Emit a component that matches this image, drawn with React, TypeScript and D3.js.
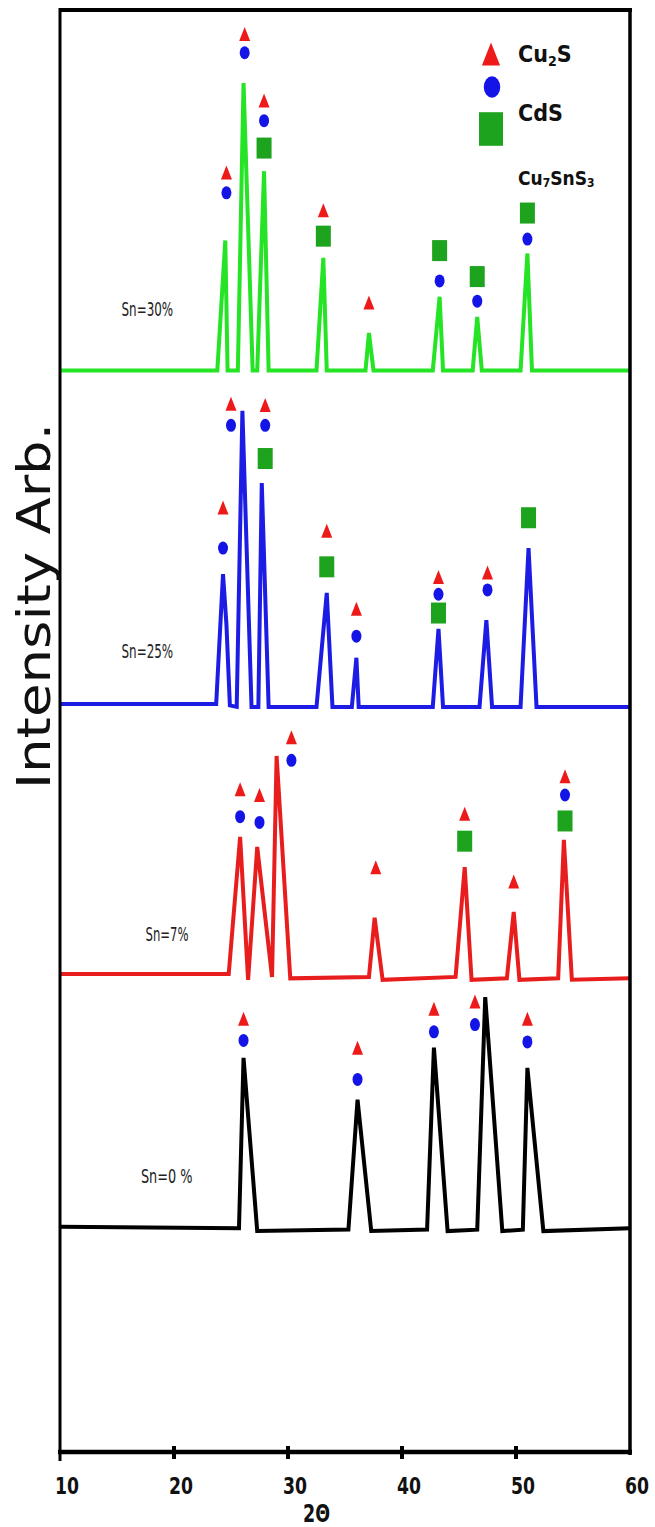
import React from "react";
import * as d3 from "d3";

type Pt = [number, number];
type Mk = [number, number, "tri" | "dot" | "sq"];

// x-axis ticks (2θ, degrees)
const thetaTicks = [10, 20, 30, 40, 50, 60];

// sample names and vertical offsets (a.u.) of each pattern's baseline
const sampleNames = ["Sn=30%", "Sn=25%", "Sn=7%", "Sn=0 %"];
const sampleOffsets = [749, 517, 330, 155];
// where the sample labels sit: [2θ, intensity above own baseline]
const sampleLabelAt: Pt[] = [[15.4, 38], [15.4, 33], [17.5, 24], [17.1, 31]];

// XRD patterns: [2θ, intensity above own baseline]
const sn30: Pt[] = [
  [10, 0], [23.8, 0], [24.5, 90], [24.7, 0], [25.6, 0], [26.1, 199], [26.9, 0],
  [27.3, 0], [27.9, 138], [28.3, 0], [32.5, 0], [33.1, 78], [33.4, 0],
  [36.8, 0], [37.1, 26], [37.5, 0], [42.7, 0], [43.3, 51], [43.6, 0],
  [46.2, 0], [46.6, 37], [47.0, 0], [50.4, 0], [51.0, 81], [51.4, 0], [60, 0],
];
const sn25: Pt[] = [
  [10, 1], [23.7, 1], [24.3, 91], [24.6, 56], [24.9, 0], [25.5, -1], [26.0, 204],
  [26.8, -1], [27.4, -1], [27.7, 154], [28.3, -1], [32.5, -1], [33.4, 78],
  [33.9, -1], [35.6, -1], [36.0, 33], [36.2, -1], [42.7, -1], [43.2, 53],
  [43.6, -1], [46.8, -1], [47.4, 59], [47.9, -1], [50.4, -1], [51.1, 109],
  [51.8, -1], [60, -1],
];
const sn7: Pt[] = [
  [10, 1], [24.8, 1], [25.8, 96], [26.5, -3], [27.3, 89], [28.6, -1], [29.0, 152],
  [30.2, -2], [37.1, -1], [37.6, 40], [38.3, -3], [44.7, -1], [45.5, 75],
  [46.1, -3], [49.2, -2], [49.8, 44], [50.3, -3], [53.7, -2], [54.2, 94],
  [54.9, -3], [60, -2],
];
const sn0: Pt[] = [
  [10, 1], [25.7, 0], [26.1, 118], [27.3, -2], [35.3, -1], [36.1, 89], [37.3, -2],
  [42.2, -1], [42.8, 125], [44.0, -2], [46.6, -1], [47.3, 160], [48.8, -2],
  [50.6, -1], [51.0, 111], [52.4, -2], [60, 0],
];

// phase markers: [2θ, intensity above own baseline, phase]
const sn30Marks: Mk[] = [
  [24.6, 137, "tri"], [24.6, 123, "dot"], [26.2, 233, "tri"], [26.2, 220, "dot"],
  [27.9, 187, "tri"], [27.9, 173, "dot"], [27.9, 154, "sq"], [33.1, 111, "tri"],
  [33.1, 93, "sq"], [37.1, 47, "tri"], [43.3, 83, "sq"], [43.3, 62, "dot"],
  [46.6, 65, "sq"], [46.6, 48, "dot"], [51.0, 109, "sq"], [51.0, 91, "dot"],
];
const sn25Marks: Mk[] = [
  [24.3, 137, "tri"], [24.3, 109, "dot"], [25.0, 209, "tri"], [25.0, 194, "dot"],
  [28.0, 208, "tri"], [28.0, 194, "dot"], [28.0, 171, "sq"], [33.4, 121, "tri"],
  [33.4, 96, "sq"], [36.0, 67, "tri"], [36.0, 48, "dot"], [43.2, 89, "tri"],
  [43.2, 77, "dot"], [43.2, 64, "sq"], [47.5, 92, "tri"], [47.5, 80, "dot"],
  [51.1, 130, "sq"],
];
const sn7Marks: Mk[] = [
  [25.8, 129, "tri"], [25.8, 110, "dot"], [27.5, 125, "tri"], [27.5, 106, "dot"],
  [30.3, 165, "tri"], [30.3, 149, "dot"], [37.7, 75, "tri"], [45.5, 112, "tri"],
  [45.5, 93, "sq"], [49.8, 65, "tri"], [54.3, 138, "tri"], [54.3, 125, "dot"],
  [54.3, 107, "sq"],
];
const sn0Marks: Mk[] = [
  [26.1, 145, "tri"], [26.1, 130, "dot"], [36.1, 125, "tri"], [36.1, 103, "dot"],
  [42.8, 152, "tri"], [42.8, 136, "dot"], [46.4, 157, "tri"], [46.4, 141, "dot"],
  [51.0, 145, "tri"], [51.0, 129, "dot"],
];

const patterns = [sn30, sn25, sn7, sn0];
const markSets = [sn30Marks, sn25Marks, sn7Marks, sn0Marks];

const W = 655;
const H = 1527;
const LINE_COLORS = ["#25e325", "#1c1ce4", "#e81e1e", "#000000"];
const MK_COLORS = { tri: "#ee1a1a", dot: "#1414e6", sq: "#1ea31e" };
const NARROW = "'Liberation Sans Narrow', 'DejaVu Sans Condensed', 'Roboto Condensed', sans-serif";

function Marker({ kind, cx, cy, s = 1 }: { kind: string; cx: number; cy: number; s?: number }) {
  if (kind === "tri") {
    const w = 11 * s, h = 14 * s;
    return (
      <path
        d={`M${cx},${cy - h / 2} L${cx + w / 2},${cy + h / 2} L${cx - w / 2},${cy + h / 2} Z`}
        fill={MK_COLORS.tri}
      />
    );
  }
  if (kind === "dot") {
    return <ellipse cx={cx} cy={cy} rx={5 * s} ry={6.5 * s} fill={MK_COLORS.dot} />;
  }
  const w = 15 * s, h = 21 * s;
  return <rect x={cx - w / 2} y={cy - h / 2} width={w} height={h} fill={MK_COLORS.sq} />;
}

export default function App() {
  const x = d3.scaleLinear().domain([10, 60]).range([60, 630]);
  const y = d3.scaleLinear().domain([0, 1000]).range([1452, 8]);
  const axisY = y(0);
  const topY = y(1000);

  return (
    <svg
      width={W}
      height={H}
      viewBox={`0 0 ${W} ${H}`}
      style={{ position: "absolute", left: 0, top: 0, display: "block", background: "#fff" }}
    >
      <rect x={0} y={0} width={W} height={H} fill="#fff" />

      {/* patterns */}
      {patterns.map((pts, i) => {
        const off = sampleOffsets[i];
        const line = d3
          .line<Pt>()
          .x((d) => x(d[0]))
          .y((d) => y(d[1] + off));
        return (
          <path
            key={"p" + i}
            d={line(pts) || ""}
            fill="none"
            stroke={LINE_COLORS[i]}
            strokeWidth={4}
            strokeLinejoin="miter"
            strokeMiterlimit={6}
          />
        );
      })}

      {/* phase markers */}
      {markSets.map((ms, i) =>
        ms.map((m, j) => (
          <Marker key={`m${i}-${j}`} kind={m[2]} cx={x(m[0])} cy={y(m[1] + sampleOffsets[i])} />
        ))
      )}

      {/* sample labels */}
      {sampleNames.map((n, i) => (
        <text
          key={"l" + i}
          x={x(sampleLabelAt[i][0])}
          y={y(sampleLabelAt[i][1] + sampleOffsets[i])}
          fontFamily={NARROW}
          fontSize={20}
          fill="#222"
          textLength={n.length * 8.6}
          lengthAdjust="spacingAndGlyphs"
        >
          {n}
        </text>
      ))}

      {/* frame */}
      <line x1={x(10)} x2={x(60) + 2} y1={topY + 2} y2={topY + 2} stroke="#000" strokeWidth={4} />
      <line x1={x(10)} x2={x(10)} y1={topY} y2={axisY + 9} stroke="#000" strokeWidth={3} />
      <line x1={x(60)} x2={x(60)} y1={topY} y2={axisY + 3} stroke="#000" strokeWidth={3.5} />
      <line x1={x(10) - 2} x2={x(60) + 2} y1={axisY} y2={axisY} stroke="#000" strokeWidth={4.5} />
      {thetaTicks.slice(1, -1).map((t) => (
        <line key={"t" + t} x1={x(t)} x2={x(t)} y1={axisY - 6} y2={axisY + 7} stroke="#000" strokeWidth={4} />
      ))}
      {thetaTicks.map((t) => (
        <text
          key={"tl" + t}
          x={Math.min(x(t) + 7, W - 15)}
          y={axisY + 42}
          textAnchor="middle"
          fontFamily={NARROW}
          fontWeight="bold"
          fontSize={23}
          fill="#111"
          textLength={24}
          lengthAdjust="spacingAndGlyphs"
        >
          {t}
        </text>
      ))}
      <text
        x={x(32.5)}
        y={axisY + 70}
        textAnchor="middle"
        fontFamily={NARROW}
        fontWeight="bold"
        fontSize={24}
        fill="#111"
        textLength={27}
        lengthAdjust="spacingAndGlyphs"
      >
        2Θ
      </text>

      {/* y label */}
      <text
        transform={`translate(50, 606) rotate(-90)`}
        textAnchor="middle"
        fontFamily="'DejaVu Sans', Verdana, sans-serif"
        fontSize={46}
        fill="#111"
        textLength={366}
        lengthAdjust="spacingAndGlyphs"
      >
        Intensity Arb.
      </text>

      {/* legend */}
      <Marker kind="tri" cx={491} cy={54} s={1.65} />
      <Marker kind="dot" cx={492} cy={87} s={1.65} />
      <Marker kind="sq" cx={491} cy={129} s={1.6} />
      <text x={518} y={62} fontFamily={NARROW} fontWeight="bold" fontSize={23} fill="#111">
        <tspan>Cu</tspan>
        <tspan fontSize={14} dy={4}>2</tspan>
        <tspan dy={-4}>S</tspan>
      </text>
      <text x={518} y={121} fontFamily={NARROW} fontWeight="bold" fontSize={23} fill="#111">
        CdS
      </text>
      <text x={518} y={185} fontFamily={NARROW} fontWeight="bold" fontSize={19} fill="#111">
        <tspan>Cu</tspan>
        <tspan fontSize={12} dy={2}>7</tspan>
        <tspan dy={-2}>SnS</tspan>
        <tspan fontSize={12} dy={2}>3</tspan>
      </text>
    </svg>
  );
}
